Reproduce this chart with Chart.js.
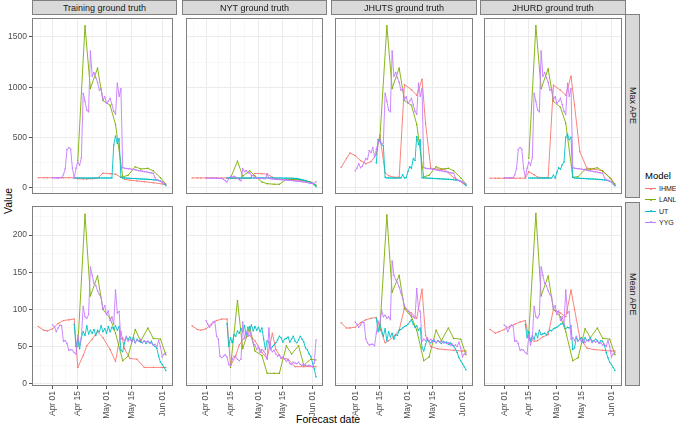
<!DOCTYPE html>
<html>
<head>
<meta charset="utf-8">
<script src="https://cdn.jsdelivr.net/npm/chart.js@4.4.0/dist/chart.umd.min.js"></script>
<style>
  body { margin: 0; width: 676px; height: 424px; background: #fff; position: relative; overflow: hidden;
         font-family: "Liberation Sans", Arial, sans-serif; }
  canvas { position: absolute; }
  .strip { position: absolute; box-sizing: border-box; background: #d9d9d9; border: 1px solid #808080;
           color: #1a1a1a; font-size: 9px; display: flex; align-items: center; justify-content: center; white-space: nowrap; }
  .strip.side span { writing-mode: vertical-rl; }
  .title { position: absolute; color: #000; font-size: 10.5px; white-space: nowrap; }
  #legend { position: absolute; left: 645px; top: 170px; }
  #legend .head { font-size: 9.5px; margin-bottom: 2px; }
  #legend .item { position: relative; height: 11.3px; font-size: 7px; color: #1a1a1a; padding-left: 14px; line-height: 11.3px; white-space: nowrap; }
  #legend .item i { position: absolute; left: 0; top: 5px; width: 11px; height: 1px; }
  #legend .item b { position: absolute; left: 4.5px; top: 4.5px; width: 2px; height: 2px; border-radius: 1px; }
</style>
</head>
<body>
<div class="title" style="left:296px; top:413px;">Forecast date</div>
<div class="title" style="left:2px; top:214px; transform: rotate(-90deg); transform-origin: 0 0;">Value</div>
<div id="legend"><div class="head">Model</div></div>
<script>
// ---- data (x = days after Apr 01) ----
const panelNames = ['Training ground truth', 'NYT ground truth', 'JHUTS ground truth', 'JHURD ground truth'];
const rowNames = ['Max APE', 'Mean APE'];
const models = ['IHME', 'LANL', 'UT', 'YYG'];
const modelColors = ['#F8766D', '#7CAE00', '#00BFC4', '#C77CFF'];

const xMajorDays = [0, 14, 30, 44, 61];
const xMajorLabels = ['Apr 01', 'Apr 15', 'May 01', 'May 15', 'Jun 01'];
const xMinorDays = [-7, 7, 22, 37, 52.5];
const yMajor = [[0, 500, 1000, 1500], [0, 50, 100, 150, 200]];
const yMinor = [[250, 750, 1250], [25, 75, 125, 175, 225]];

const ihmeDays = [-8, -5, -3, 0, 3, 6, 9, 12, 14, 17, 19, 22, 25, 28, 32, 35, 38, 40, 43, 47, 51, 56, 61, 63];
const lanlDays = [14, 18, 21, 25, 28, 32, 35, 39, 42, 46, 49, 53, 56, 60, 63];
const utDays = [12, 13, 14, 15, 16, 17, 18, 19, 20, 21, 22, 23, 24, 25, 26, 27, 28, 29, 30, 31, 32, 33, 34, 35, 36, 37,
  38, 39, 40, 41, 42, 43, 44, 45, 46, 47, 48, 49, 50, 51, 52, 53, 54, 55, 56, 57, 58, 59, 60, 61, 62, 63];
const yygDays = [0, 1, 2, 3, 4, 5, 6, 7, 8, 9, 10, 11, 12, 13, 14, 15, 16, 17, 18, 19, 20, 21, 22, 23, 24, 25, 26, 27, 28, 29,
  30, 31, 32, 33, 34, 35, 36, 37, 38, 39, 40, 41, 42, 43, 44, 45, 46, 47, 48, 49, 50, 51, 52, 53, 54, 55, 56, 57, 58, 59,
  60, 61, 62, 63];

// Max APE
const ihmeMaxTrain = [100, 100, 100, 100, 100, 100, 100, 100, 90, 88, 88, 90, 95, 145, 140, 135, 105, 85, 75, 68, 60, 50, 38, 30];
const ihmeMaxNyt = [98, 98, 98, 98, 98, 98, 98, 98, 95, 92, 92, 92, 95, 143, 140, 136, 105, 88, 82, 79, 78, 68, 45, 25];
const ihmeMaxJhuts = [203, 290, 345, 320, 270, 240, 260, 330, 525, 150, 120, 105, 105, 1025, 975, 920, 1080, 640, 193, 185, 180, 100, 50, 28];
const ihmeMaxJhurd = [95, 95, 95, 95, 95, 95, 95, 95, 160, 130, 105, 100, 100, 1020, 970, 920, 1110, 820, 360, 195, 185, 168, 88, 22];

const lanlMaxTrain = [272, 1610, 987, 1190, 867, 820, 630, 108, 125, 209, 187, 193, 168, 100, 38];
const lanlMaxNyt = [95, 265, 115, 170, 118, 57, 41, 35, 35, 85, 82, 82, 73, 57, 25];
const lanlMaxJhuts = [480, 1610, 987, 1190, 867, 820, 630, 108, 125, 209, 187, 193, 168, 100, 38];
const lanlMaxJhurd = [294, 1610, 984, 1184, 860, 800, 642, 104, 110, 183, 185, 199, 165, 100, 38];

const utMaxTrain = [98, 97, 98, 97, 98, 97, 98, 97, 98, 97, 98, 98, 97, 98, 97, 98, 97, 98, 97, 98, 97, 98, 424, 515, 440, 487,
  105, 98, 97, 96, 95, 94, 93, 92, 91, 90, 89, 88, 87, 86, 85, 84, 83, 82, 80, 78, 76, 72, 66, 55, 38, 20];
const utMaxNyt = [98, 97, 98, 97, 98, 97, 98, 97, 98, 97, 98, 98, 97, 98, 97, 98, 97, 98, 97, 98, 97, 98, 97, 98, 97, 98,
  97, 96, 97, 96, 97, 96, 96, 95, 96, 95, 95, 95, 94, 93, 92, 88, 84, 80, 75, 71, 66, 60, 51, 44, 30, 10];
const utMaxJhuts = [245, 480, 462, 430, 420, 104, 98, 97, 98, 97, 97, 98, 97, 98, 97, 130, 98, 100, 161, 209, 193, 288, 272, 510,
  430, 478, 100, 98, 97, 96, 95, 94, 93, 92, 91, 90, 89, 88, 87, 86, 85, 84, 83, 82, 80, 78, 76, 72, 66, 55, 38, 20];
const utMaxJhurd = [null, null, 96, 97, 96, 97, 96, 97, 96, 97, 96, 97, 96, 97, 96, 97, 126, 95, 155, 199, 183, 230, 255, 503,
  534, 478, 503, 104, 97, 96, 95, 94, 93, 92, 91, 90, 89, 88, 87, 86, 85, 84, 83, 82, 80, 78, 76, 72, 66, 55, 38, 20];

const yygMaxTrain = [100, 100, 98, 98, 100, 100, 130, 190, 380, 400, 385, 195, 100, 195, 255, 225, 300, 940, 860, 770,
  755, 1360, 1110, 1145, 1095, 1050, 970, 985, 875, 905, 840, 860, 890, 825, 760, 730, 1040, 910, 985, 200,
  195, 192, 190, 188, 185, 182, 178, 175, 170, 168, 165, 160, 158, 155, 150, 148, 145, 100, 80, 72, 65, 58, 45, 30];
const yygMaxNyt = [97, 97, 96, 96, 96, 95, 95, 94, 93, 92, 85, 70, 57, 90, 111, 105, 115, 105, 95, 80,
  70, 190, 160, 170, 146, 150, 120, 125, 100, 98, 95, 92, 95, 92, 90, 136, 95, 90, 88, 85,
  84, 83, 82, 80, 80, 78, 77, 75, 74, 72, 70, 68, 66, 64, 62, 60, 58, 55, 52, 48, 45, 42, 45, 60];
const yygMaxJhuts = [168, 195, 240, 200, 215, 250, 290, 280, 370, 350, 400, 305, 380, 450, 480, 430, 445, 940, 860, 770,
  755, 1360, 1110, 1145, 1095, 1050, 970, 985, 875, 905, 840, 860, 890, 825, 760, 730, 1040, 910, 985, 200,
  195, 192, 190, 188, 185, 182, 178, 175, 170, 168, 165, 160, 158, 155, 150, 148, 145, 100, 80, 72, 65, 58, 45, 30];

// Mean APE
const ihmeMeanTrain = [77, 72, 71, 74, 81, 85, 86, 87, 22, 38, 51, 60, 70, 62, 46, 30, 70, 47, 34, 33, 22, 22, 22, 22];
const ihmeMeanNyt = [78, 73, 72, 74, 80, 85, 87, 87, 24, 38, 52, 62, 65, 58, 42, 34, 68, 46, 35, 33, 23, 23, 23, 23];
const ihmeMeanJhuts = [82, 75, 75, 76, 82, 86, 88, 89, 75, 55, 58, 64, 72, 102, 95, 88, 127, 65, 50, 47, 46, 45, 44, 44];
const ihmeMeanJhurd = [73, 68, 70, 73, 77, 80, 83, 85, 62, 57, 58, 63, 66, 100, 95, 90, 126, 100, 62, 48, 46, 45, 44, 44];

const lanlMeanTrain = [50, 228, 118, 145, 100, 88, 68, 31, 37, 73, 57, 75, 61, 60, 39];
const lanlMeanNyt = [22, 112, 47, 77, 44, 38, 14, 14, 14, 51, 40, 51, 25, 33, 32];
const lanlMeanJhuts = [72, 227, 123, 146, 101, 90, 72, 31, 36, 72, 58, 75, 61, 60, 39];
const lanlMeanJhurd = [68, 229, 118, 145, 100, 90, 70, 31, 35, 74, 62, 75, 61, 60, 39];

const utMeanTrain = [80, 50, 60, 47, 62, 70, 65, 78, 67, 72, 68, 73, 65, 72, 70, 78, 70, 74, 68, 77, 70, 76, 73, 78, 72, 77,
  45, 43, 55, 62, 60, 63, 58, 62, 55, 60, 57, 56, 55, 58, 54, 57, 55, 57, 52, 50, 48, 37, 29, 26, 22, 18];
const utMeanNyt = [81, 50, 62, 55, 66, 64, 71, 68, 74, 70, 78, 66, 76, 72, 79, 71, 77, 72, 76, 70, 75, 60, 46, 58, 56, 46,
  50, 52, 55, 59, 64, 62, 56, 60, 61, 63, 56, 60, 64, 57, 55, 59, 64, 60, 56, 48, 46, 40, 37, 28, 20, 9];
const utMeanJhuts = [88, 70, 81, 72, 64, 74, 58, 70, 63, 68, 60, 66, 65, 72, 73, 75, 77, 78, 80, 83, 86, 80, 76, 78, 72, 75,
  48, 44, 53, 59, 57, 55, 58, 57, 55, 58, 56, 54, 57, 55, 56, 53, 55, 52, 50, 47, 42, 35, 31, 27, 23, 19];
const utMeanJhurd = [80, 62, 70, 57, 65, 60, 68, 62, 72, 66, 67, 68, 66, 70, 72, 71, 74, 75, 76, 78, 80, 81, 79, 74, 76, 75,
  78, 46, 48, 62, 58, 60, 62, 55, 62, 58, 59, 62, 57, 58, 60, 58, 55, 58, 57, 52, 42, 35, 29, 26, 22, 18];

const yygMeanTrain = [79, 77, 70, 75, 79, 78, 57, 58, 54, 45, 46, 45, 42, 40, 65, 52, 62, 104, 90, 88,
  93, 157, 146, 135, 132, 125, 120, 116, 100, 105, 93, 98, 85, 90, 80, 126, 95, 97, 60, 62,
  58, 64, 57, 60, 56, 60, 55, 59, 57, 60, 55, 58, 56, 57, 54, 55, 52, 53, 50, 58, 50, 36, 40, 42];
const yygMeanNyt = [85, 80, 76, 79, 83, 84, 64, 60, 37, 35, 37, 39, 36, 26, 24, 33, 37, 36, 33, 31,
  33, 83, 61, 70, 64, 72, 62, 55, 52, 46, 50, 42, 46, 44, 40, 33, 75, 46, 43, 45,
  40, 37, 39, 34, 36, 33, 30, 32, 27, 26, 29, 28, 27, 29, 26, 25, 26, 25, 24, 25, 24, 23, 28, 59];
const yygMeanJhuts = [83, 80, 76, 79, 83, 82, 61, 55, 52, 53, 53, 51, 68, 84, 80, 99, 90, 92, 88, 90,
  86, 165, 146, 140, 136, 130, 122, 115, 105, 101, 98, 95, 92, 90, 88, 128, 100, 97, 57, 60,
  58, 62, 57, 60, 56, 59, 55, 58, 56, 57, 55, 56, 54, 55, 52, 54, 51, 52, 50, 56, 48, 36, 40, 42];

// ---- layout ----
const X_MIN = -11.5, X_MAX = 67;
const yRange = [[-62, 1688], [-3, 239]];
const colLeft = [32, 182, 331, 480];
const colWidth = [145, 145, 146, 146];
const rowTop = [14, 202];
const rowHeight = 184;
const yAxisW = 32, xAxisH = 40;

const modelDays = [ihmeDays, lanlDays, utDays, yygDays];
const grid = [
  [[ihmeMaxTrain, lanlMaxTrain, utMaxTrain, yygMaxTrain],
   [ihmeMaxNyt, lanlMaxNyt, utMaxNyt, yygMaxNyt],
   [ihmeMaxJhuts, lanlMaxJhuts, utMaxJhuts, yygMaxJhuts],
   [ihmeMaxJhurd, lanlMaxJhurd, utMaxJhurd, yygMaxTrain]],
  [[ihmeMeanTrain, lanlMeanTrain, utMeanTrain, yygMeanTrain],
   [ihmeMeanNyt, lanlMeanNyt, utMeanNyt, yygMeanNyt],
   [ihmeMeanJhuts, lanlMeanJhuts, utMeanJhuts, yygMeanJhuts],
   [ihmeMeanJhurd, lanlMeanJhurd, utMeanJhurd, yygMeanTrain]]
];

const frame = {
  id: 'frame',
  afterDraw(chart) {
    const { ctx, chartArea: a } = chart;
    ctx.save();
    ctx.strokeStyle = '#808080';
    ctx.lineWidth = 1;
    ctx.strokeRect(a.left + 0.5, a.top + 0.5, a.right - a.left - 1, a.bottom - a.top - 1);
    ctx.restore();
  }
};

function zeroPad(s) { s.paddingTop = 0; s.paddingBottom = 0; s.paddingLeft = 0; s.paddingRight = 0; }

function makePanel(r, c) {
  const left = c === 0;
  const bottom = r === 1;
  const w = colWidth[c] + (left ? yAxisW : 0);
  const h = rowHeight + (bottom ? xAxisH : 0);
  const cv = document.createElement('canvas');
  cv.width = w; cv.height = h;
  cv.style.left = (colLeft[c] - (left ? yAxisW : 0)) + 'px';
  cv.style.top = rowTop[r] + 'px';
  cv.style.width = w + 'px'; cv.style.height = h + 'px';
  document.body.appendChild(cv);

  const datasets = models.map((m, i) => ({
    label: m,
    data: modelDays[i].map((d, k) => ({ x: d, y: grid[r][c][i][k] })).filter(p => p.y !== null),
    borderColor: modelColors[i],
    backgroundColor: modelColors[i],
    borderWidth: 0.9,
    pointRadius: 0.75,
    pointBorderWidth: 0,
    tension: 0,
    order: 3 - i
  }));

  const xMinor = v => xMinorDays.includes(v);
  const yMinorR = v => yMinor[r].includes(v);

  new Chart(cv, {
    type: 'line',
    data: { datasets },
    plugins: [frame],
    options: {
      responsive: false,
      animation: false,
      devicePixelRatio: 1,
      layout: { padding: 0 },
      plugins: { legend: { display: false }, tooltip: { enabled: false } },
      scales: {
        x: {
          type: 'linear', min: X_MIN, max: X_MAX,
          afterBuildTicks: s => { s.ticks = xMinorDays.concat(xMajorDays).sort((a, b) => a - b).map(v => ({ value: v })); },
          afterFit: s => { s.height = bottom ? xAxisH : 0; zeroPad(s); },
          border: { display: false },
          grid: {
            color: ctx => xMinor(ctx.tick.value) ? '#f3f3f3' : '#ebebeb',
            lineWidth: ctx => xMinor(ctx.tick.value) ? 0.6 : 1,
            drawTicks: bottom, tickLength: 3,
            tickColor: ctx => xMinor(ctx.tick.value) ? 'rgba(0,0,0,0)' : '#555'
          },
          ticks: {
            display: bottom, autoSkip: false, minRotation: 90, maxRotation: 90, padding: 2,
            color: '#4d4d4d', font: { size: 8.5, family: '"Liberation Sans", Arial, sans-serif' },
            callback: v => { const k = xMajorDays.indexOf(v); return k >= 0 ? xMajorLabels[k] : ''; }
          }
        },
        y: {
          type: 'linear', min: yRange[r][0], max: yRange[r][1],
          afterBuildTicks: s => { s.ticks = yMinor[r].concat(yMajor[r]).sort((a, b) => a - b).map(v => ({ value: v })); },
          afterFit: s => { s.width = left ? yAxisW : 0; zeroPad(s); },
          border: { display: false },
          grid: {
            color: ctx => yMinorR(ctx.tick.value) ? '#f3f3f3' : '#ebebeb',
            lineWidth: ctx => yMinorR(ctx.tick.value) ? 0.6 : 1,
            drawTicks: left, tickLength: 3,
            tickColor: ctx => yMinorR(ctx.tick.value) ? 'rgba(0,0,0,0)' : '#555'
          },
          ticks: {
            display: left, autoSkip: false, padding: 2,
            color: '#4d4d4d', font: { size: 8.5, family: '"Liberation Sans", Arial, sans-serif' },
            callback: v => yMajor[r].includes(v) ? String(v) : ''
          }
        }
      }
    }
  });
}

for (let r = 0; r < 2; r++) for (let c = 0; c < 4; c++) makePanel(r, c);

// strips
panelNames.forEach((name, c) => {
  const d = document.createElement('div');
  d.className = 'strip';
  Object.assign(d.style, { left: colLeft[c] + 'px', top: '0px', width: colWidth[c] + 'px', height: '15px' });
  d.textContent = name;
  document.body.appendChild(d);
});
rowNames.forEach((name, r) => {
  const d = document.createElement('div');
  d.className = 'strip side';
  Object.assign(d.style, { left: '625px', top: rowTop[r] + 'px', width: '15px', height: rowHeight + 'px' });
  const s = document.createElement('span');
  s.textContent = name;
  d.appendChild(s);
  document.body.appendChild(d);
});

// legend
const lg = document.getElementById('legend');
models.forEach((m, i) => {
  const it = document.createElement('div');
  it.className = 'item';
  it.innerHTML = '<i style="background:' + modelColors[i] + '"></i><b style="background:' + modelColors[i] + '"></b>' + m;
  lg.appendChild(it);
});
</script>
</body>
</html>
